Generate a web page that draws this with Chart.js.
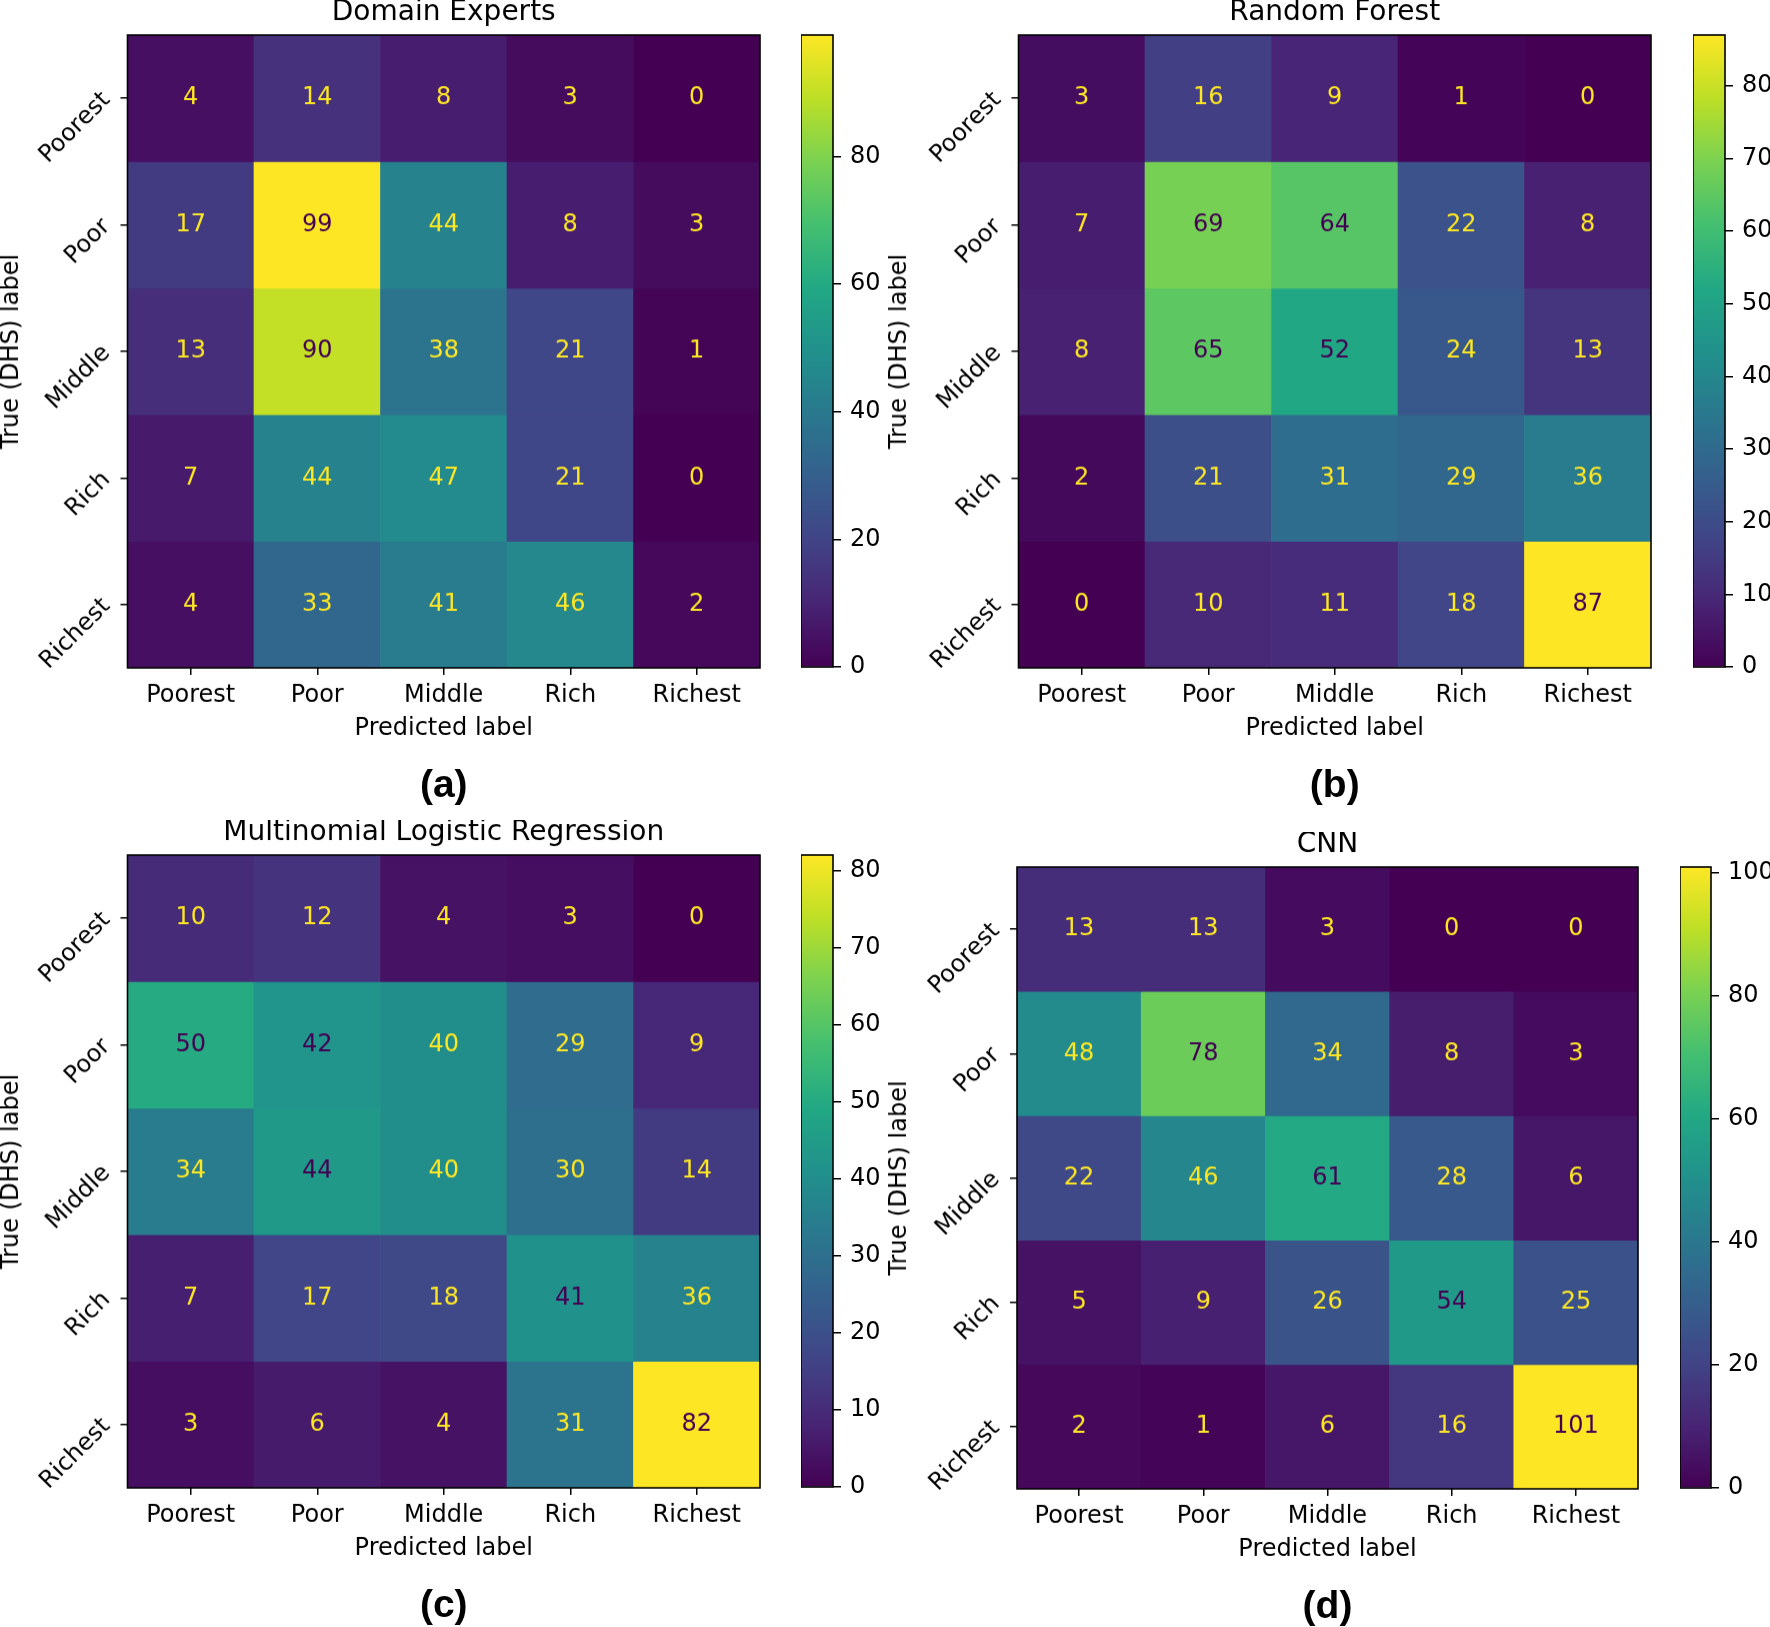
<!DOCTYPE html>
<html>
<head>
<meta charset="utf-8">
<title>Confusion matrices</title>
<script src="https://cdn.jsdelivr.net/npm/chart.js@4.4.1/dist/chart.umd.min.js"></script>
<style>
  html, body { margin: 0; padding: 0; background: #fff; }
  body { width: 1770px; height: 1627px; overflow: hidden; position: relative; }
  .box { position: absolute; }
</style>
</head>
<body>
<script>
// ---- data ----
const rowLabels = ['Poorest', 'Poor', 'Middle', 'Rich', 'Richest'];
const colLabels = ['Poorest', 'Poor', 'Middle', 'Rich', 'Richest'];

const domainExperts = [
  [4, 14, 8, 3, 0],
  [17, 99, 44, 8, 3],
  [13, 90, 38, 21, 1],
  [7, 44, 47, 21, 0],
  [4, 33, 41, 46, 2],
];
const randomForest = [
  [3, 16, 9, 1, 0],
  [7, 69, 64, 22, 8],
  [8, 65, 52, 24, 13],
  [2, 21, 31, 29, 36],
  [0, 10, 11, 18, 87],
];
const logisticRegression = [
  [10, 12, 4, 3, 0],
  [50, 42, 40, 29, 9],
  [34, 44, 40, 30, 14],
  [7, 17, 18, 41, 36],
  [3, 6, 4, 31, 82],
];
const cnn = [
  [13, 13, 3, 0, 0],
  [48, 78, 34, 8, 3],
  [22, 46, 61, 28, 6],
  [5, 9, 26, 54, 25],
  [2, 1, 6, 16, 101],
];

const titles = ['Domain Experts', 'Random Forest', 'Multinomial Logistic Regression', 'CNN'];
const tags = ['(a)', '(b)', '(c)', '(d)'];
const colorbarTicksA = [0, 20, 40, 60, 80];
const colorbarTicksB = [0, 10, 20, 30, 40, 50, 60, 70, 80];
const colorbarTicksC = [0, 10, 20, 30, 40, 50, 60, 70, 80];
const colorbarTicksD = [0, 20, 40, 60, 80, 100];

// ---- layout (pixels on the page) ----
const geometry = [
  { left: 0,   top: 0,   yAxisW: 127.5, heatW: 632.5, heatH: 632, cbLeft: 801,  cbW: 32, cbCanvasW: 100 },
  { left: 888, top: 0,   yAxisW: 130.5, heatW: 632.5, heatH: 632, cbLeft: 1693, cbW: 32, cbCanvasW: 77 },
  { left: 0,   top: 820, yAxisW: 127.5, heatW: 632.5, heatH: 632, cbLeft: 801,  cbW: 32, cbCanvasW: 100 },
  { left: 888, top: 832, yAxisW: 129,   heatW: 621,   heatH: 621, cbLeft: 1680, cbW: 31, cbCanvasW: 90 },
];
const TITLE_H = 35, XAXIS_H = 75, RIGHT_PAD = 4;
const TAG_SIZE = 39, TAG_PAD = 20;
const TAG_H = TAG_PAD + TAG_SIZE * 1.2;
const FONT = 24;

// viridis colormap stops
const VIRIDIS = ['#440154', '#482475', '#414487', '#355f8d', '#2a788e', '#21918c',
                 '#22a884', '#44bf70', '#7ad151', '#bddf26', '#fde725'];

function hexToRgb(h) {
  return [1, 3, 5].map(i => parseInt(h.slice(i, i + 2), 16));
}
function viridis(t) {
  t = Math.min(1, Math.max(0, t));
  const pos = t * (VIRIDIS.length - 1);
  const i = Math.min(Math.floor(pos), VIRIDIS.length - 2);
  const f = pos - i;
  const a = hexToRgb(VIRIDIS[i]), b = hexToRgb(VIRIDIS[i + 1]);
  const c = a.map((v, k) => Math.round(v + (b[k] - v) * f));
  return `rgb(${c[0]}, ${c[1]}, ${c[2]})`;
}

Chart.defaults.font.family = "'DejaVu Sans'";
Chart.defaults.font.size = FONT;
Chart.defaults.color = '#000';

// black frame round the plot area
const frame = {
  id: 'frame',
  afterDraw(chart) {
    const { ctx, chartArea: a } = chart;
    ctx.save();
    ctx.strokeStyle = '#000';
    ctx.lineWidth = 1.6;
    ctx.strokeRect(a.left, a.top, a.right - a.left, a.bottom - a.top);
    ctx.restore();
  }
};

// numbers inside the cells
const cellText = {
  id: 'cellText',
  afterDatasetsDraw(chart, args, opts) {
    if (!opts.matrix) return;
    const { ctx, scales: { x, y } } = chart;
    ctx.save();
    ctx.font = FONT + "px 'DejaVu Sans'";
    ctx.textAlign = 'center';
    ctx.textBaseline = 'middle';
    opts.matrix.forEach((row, r) => row.forEach((v, c) => {
      ctx.fillStyle = v < opts.thresh ? VIRIDIS[VIRIDIS.length - 1] : VIRIDIS[0];
      ctx.fillText(String(v), x.getPixelForValue(c), y.getPixelForValue(r + 0.5));
    }));
    ctx.restore();
  }
};

const tickGrid = { display: true, offset: false, drawOnChartArea: false, drawTicks: true,
                   tickLength: 7, color: '#000', lineWidth: 1.5 };

function addCanvas(left, top, w, h) {
  const div = document.createElement('div');
  div.className = 'box';
  Object.assign(div.style, { left: left + 'px', top: top + 'px', width: w + 'px', height: h + 'px' });
  const cv = document.createElement('canvas');
  div.appendChild(cv);
  document.body.appendChild(div);
  return cv;
}

function zeroPadding(s) {
  s.paddingTop = 0; s.paddingBottom = 0; s.paddingLeft = 0; s.paddingRight = 0;
}

function drawPanel(matrix, title, tag, cbTicks, geo) {
  const flat = matrix.flat();
  const vmax = Math.max(...flat), vmin = Math.min(...flat);
  const thresh = (vmax + vmin) / 2;

  const w = Math.round(geo.yAxisW + geo.heatW) + RIGHT_PAD;
  const h = TITLE_H + geo.heatH + XAXIS_H + TAG_H;
  const cv = addCanvas(geo.left, geo.top, w, h);

  const datasets = rowLabels.map((name, r) => ({
    label: name,
    data: colLabels.map(() => [r, r + 1]),
    backgroundColor: matrix[r].map(v => viridis((v - vmin) / (vmax - vmin))),
    borderWidth: 0,
    grouped: false,
    categoryPercentage: 1,
    barPercentage: 1,
  }));

  new Chart(cv, {
    type: 'bar',
    data: { labels: colLabels, datasets },
    plugins: [cellText, frame],
    options: {
      responsive: true,
      maintainAspectRatio: false,
      animation: false,
      layout: { padding: { left: 0, top: 0, bottom: 0, right: w - Math.round(geo.yAxisW + geo.heatW) } },
      plugins: {
        legend: { display: false },
        tooltip: { enabled: false },
        title: {
          display: true, text: title, fullSize: false, color: '#000',
          font: { size: 28, weight: 'normal', lineHeight: 0.9 },
          padding: { top: 0, bottom: TITLE_H - 28 * 0.9 },
        },
        subtitle: {
          display: true, text: tag, position: 'bottom', fullSize: false, color: '#000',
          font: { family: "'Liberation Sans'", size: TAG_SIZE, weight: 'bold', lineHeight: 1.2 },
          padding: { top: TAG_PAD, bottom: 0 },
        },
        cellText: { matrix, thresh },
      },
      scales: {
        x: {
          type: 'category',
          offset: true,
          grid: tickGrid,
          border: { display: false },
          ticks: { padding: 6, maxRotation: 0, autoSkip: false, color: '#000' },
          title: { display: true, text: 'Predicted label', padding: 0, color: '#000' },
          afterFit: s => { s.height = XAXIS_H; zeroPadding(s); },
        },
        y: {
          type: 'linear',
          min: 0, max: 5,
          reverse: true,
          afterBuildTicks: s => { s.ticks = rowLabels.map((_, i) => ({ value: i + 0.5 })); },
          grid: tickGrid,
          border: { display: false },
          ticks: {
            callback: (v, i) => rowLabels[i],
            minRotation: 45, maxRotation: 45,
            padding: 14, labelOffset: -2, autoSkip: false, color: '#000',
          },
          title: { display: true, text: 'True (DHS) label', padding: 0, color: '#000',
                   font: { size: FONT, lineHeight: 0.95 } },
          afterFit: s => { s.width = geo.yAxisW; zeroPadding(s); },
        },
      },
    },
  });

  // colour bar
  const cbTopPad = 30, cbBottomPad = 20;
  const heatTop = geo.top + TITLE_H;
  const cbCanvas = addCanvas(geo.cbLeft, heatTop - cbTopPad, geo.cbCanvasW, geo.heatH + cbTopPad + cbBottomPad);
  new Chart(cbCanvas, {
    type: 'bar',
    data: {
      labels: [''],
      datasets: [{
        data: [[vmin, vmax]],
        backgroundColor: c => {
          const { chart } = c;
          if (!chart.chartArea) return VIRIDIS[0];
          const y = chart.scales.y;
          const g = chart.ctx.createLinearGradient(0, y.getPixelForValue(vmin), 0, y.getPixelForValue(vmax));
          VIRIDIS.forEach((col, i) => g.addColorStop(i / (VIRIDIS.length - 1), col));
          return g;
        },
        borderWidth: 0,
        categoryPercentage: 1,
        barPercentage: 1,
      }],
    },
    plugins: [frame],
    options: {
      responsive: true,
      maintainAspectRatio: false,
      animation: false,
      layout: { padding: { left: 0, right: 0, top: cbTopPad, bottom: cbBottomPad } },
      plugins: { legend: { display: false }, tooltip: { enabled: false } },
      scales: {
        x: { display: false },
        y: {
          position: 'right',
          min: vmin, max: vmax,
          afterBuildTicks: s => { s.ticks = cbTicks.map(v => ({ value: v })); },
          grid: { drawOnChartArea: false, drawTicks: true, tickLength: 8, color: '#000', lineWidth: 1.5 },
          border: { display: false },
          ticks: { padding: 9, color: '#000' },
          afterFit: s => { s.width = geo.cbCanvasW - geo.cbW; zeroPadding(s); },
        },
      },
    },
  });
}

drawPanel(domainExperts, titles[0], tags[0], colorbarTicksA, geometry[0]);
drawPanel(randomForest, titles[1], tags[1], colorbarTicksB, geometry[1]);
drawPanel(logisticRegression, titles[2], tags[2], colorbarTicksC, geometry[2]);
drawPanel(cnn, titles[3], tags[3], colorbarTicksD, geometry[3]);
</script>
</body>
</html>
